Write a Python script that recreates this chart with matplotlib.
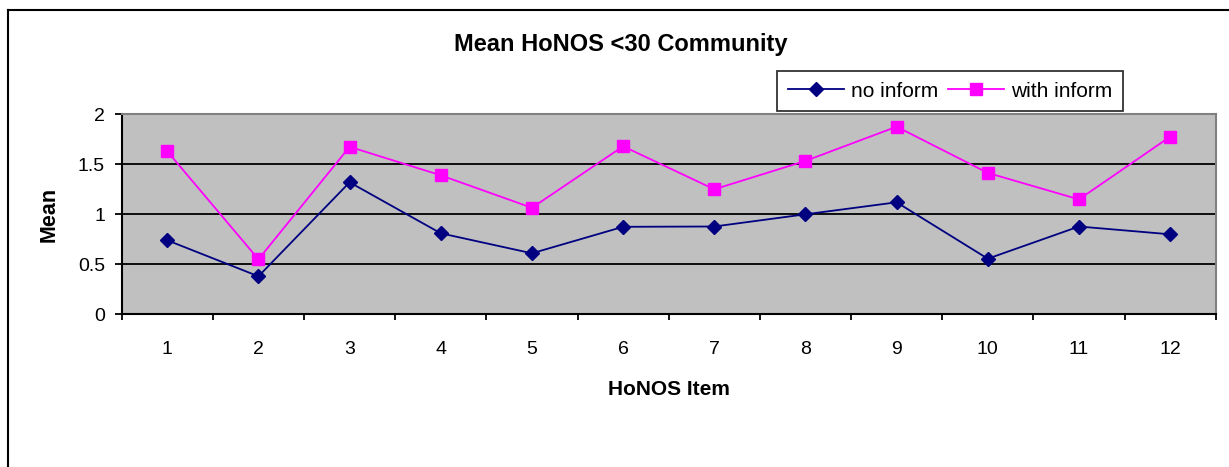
import numpy as np
import matplotlib
matplotlib.use("Agg")
import matplotlib.pyplot as plt
from matplotlib.lines import Line2D

plt.rcParams['font.family'] = ['Liberation Sans', 'DejaVu Sans']

# data
items = [1, 2, 3, 4, 5, 6, 7, 8, 9, 10, 11, 12]
noInform = [0.74, 0.38, 1.32, 0.81, 0.61, 0.875, 0.878, 1.0, 1.12, 0.556, 0.878, 0.80]
withInform = [1.63, 0.55, 1.675, 1.39, 1.065, 1.68, 1.25, 1.534, 1.876, 1.414, 1.149, 1.776]
yTicks = [0, 0.5, 1, 1.5, 2]

W, H = 1229, 467
fig = plt.figure(figsize=(W / 100, H / 100), dpi=100)

# outer chart frame (cropped on right and bottom)
fig.add_artist(Line2D([7.5 / W, 7.5 / W], [0, 1 - 10 / H], color='black', lw=1.5))
fig.add_artist(Line2D([7.5 / W, 1], [1 - 10 / H, 1 - 10 / H], color='black', lw=1.5))

ax = fig.add_axes([121.7 / W, (H - 314.3) / H, 1094 / W, 200 / H])
ax.set_facecolor('#C0C0C0')

for y in yTicks[1:-1]:
    ax.axhline(y, color='black', lw=1.3, zorder=1)

ax.plot(items, noInform, color='#000080', marker='D', markersize=7.5, lw=1.3,
        label='no inform', zorder=3)
ax.plot(items, withInform, color='#FF00FF', marker='s', markersize=8, lw=1.3,
        label='with inform', zorder=3)

ax.set_xlim(0.5, 12.5)
ax.set_ylim(0, 2)
ax.set_yticks(yTicks)
ax.set_yticklabels(['0', '0.5', '1', '1.5', '2'])
ax.set_xticks(items)
ax.set_xticks(np.arange(0.5, 13, 1), minor=True)
ax.tick_params(axis='x', which='major', length=0, pad=19, labelsize=14)
ax.tick_params(axis='x', which='minor', length=4.5, width=1.3, direction='out')
ax.tick_params(axis='y', length=5, width=1.3, direction='out', pad=7, labelsize=14)

ax.spines['left'].set_linewidth(1.5)
ax.spines['bottom'].set_linewidth(1.5)
ax.spines['top'].set_color('#808080')
ax.spines['right'].set_color('#808080')
ax.spines['top'].set_linewidth(1.5)
ax.spines['right'].set_linewidth(1.5)

ax.set_xlabel('HoNOS Item', fontsize=15, fontweight='bold', labelpad=16)
ax.set_ylabel('Mean', fontsize=15.5, fontweight='bold', labelpad=13)

fig.text(621 / W, 1 - 44 / H, 'Mean HoNOS <30 Community', ha='center', va='center',
         fontsize=17, fontweight='bold')

leg = ax.legend(loc='center', bbox_to_anchor=(950 / W, 1 - 91.2 / H),
                bbox_transform=fig.transFigure, ncol=2, fontsize=15,
                frameon=True, fancybox=False, borderpad=0.5, handlelength=2.7,
                handletextpad=0.35, columnspacing=0.45, borderaxespad=0)
leg.get_frame().set_edgecolor('black')
leg.get_frame().set_linewidth(1.3)

fig.savefig('out.png', dpi=100)
